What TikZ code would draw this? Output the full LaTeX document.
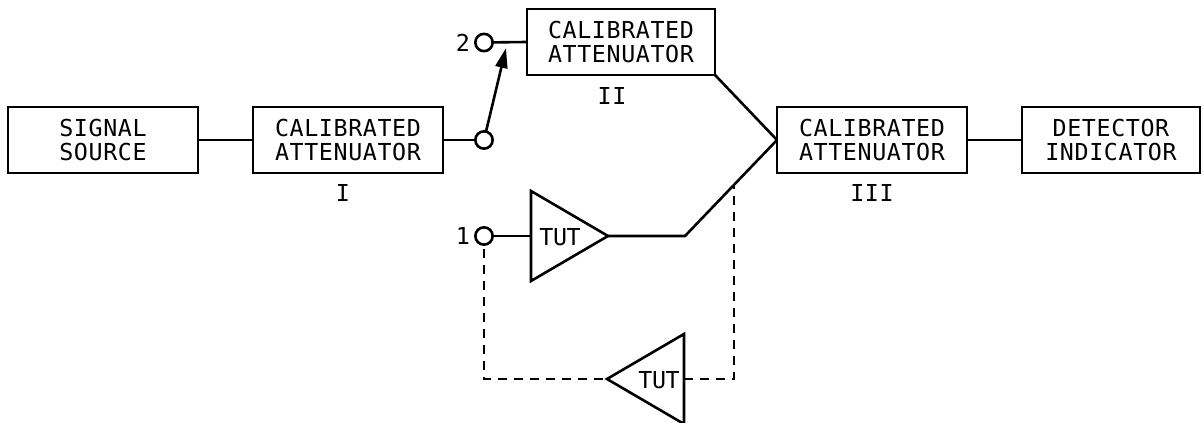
\documentclass[tikz,border=0pt]{standalone}
\usepackage{fontspec}
\setmainfont[LetterSpace=2.6]{DejaVu Sans Mono}
\newfontfamily\tutfont[LetterSpace=-2]{DejaVu Sans Mono}
\usetikzlibrary{arrows.meta,shapes.geometric}
\tikzset{
  x=0.75pt,y=-0.75pt,
  wire/.style={line width=1.95pt,line join=miter},
  dashwire/.style={line width=1.7pt,dash pattern=on 6.75pt off 5.25pt},
  blk/.style={draw,line width=1.95pt,outer sep=0pt,minimum width=142.5pt,minimum height=49.5pt,inner sep=0pt,align=center,font=\fontsize{17.5}{18.4}\selectfont},
  lbl/.style={inner sep=0pt,font=\fontsize{17.5}{18.4}\selectfont},
  tutlbl/.style={inner sep=0pt,font=\fontsize{17.5}{18.4}\tutfont},
  term/.style={draw,circle,line width=1.95pt,minimum size=13pt,outer sep=0pt,inner sep=0pt},
  amp/.style={draw,isosceles triangle,isosceles triangle stretches,line width=1.95pt,outer sep=0pt,inner sep=0pt,minimum width=67.5pt,minimum height=57.75pt},
}
\begin{document}
\begin{tikzpicture}
\useasboundingbox (0,0) rectangle (1204,423);
\node[blk] (src) at (103,140) {SIGNAL\\SOURCE};
\node[blk] (a1) at (348,140) {CALIBRATED\\ATTENUATOR};
\node[blk,minimum width=141pt] (a2) at (621,42) {CALIBRATED\\ATTENUATOR};
\node[blk] (a3) at (872,140) {CALIBRATED\\ATTENUATOR};
\node[blk,minimum width=133.5pt] (det) at (1111,140) {DETECTOR\\INDICATOR};
\node[lbl] (l1) at (343,193) {I};
\node[lbl] (l2) at (612,96) {II};
\node[lbl] (l3) at (872,193) {III};
\node[term] (t2) at (484,42.5) {};
\node[term] (sw) at (484,140) {};
\node[term] (t1) at (484,236) {};
\node[lbl] (n2) at (463,43) {2};
\node[lbl] (n1) at (463,236) {1};
\node[amp,anchor=apex] (tu) at (608,236) {};
\node[amp,anchor=apex,shape border rotate=180] (td) at (607,379) {};
\node[tutlbl] (tul) at (560,237) {TUT};
\node[tutlbl] (tdl) at (659,380) {TUT};
\coordinate (arr) at (506,48);
\coordinate (bend) at (685,236);
\coordinate (tap) at (734,185);
\coordinate (c1) at (484,379);
\coordinate (c2) at (734,379);
\draw[wire] (src.east) -- (a1.west);
\draw[wire] (a1.east) -- (sw);
\draw[wire] (t2) -- (a2.west);
\draw[wire,-{Triangle[length=15pt,width=9pt]}] (sw) -- (arr);
\draw[wire] (a2.south east) -- (a3.west);
\draw[wire] (a3.east) -- (det.west);
\draw[wire] (t1) -- (tu.west |- t1);
\draw[wire] (tu.apex) -- (bend) -- (a3.west);
\draw[dashwire,dash phase=-3.5pt] (t1) -- (c1) -- (td.apex);
\draw[dashwire] (td.east |- c2) -- (c2) -- (tap);
\end{tikzpicture}
\end{document}
